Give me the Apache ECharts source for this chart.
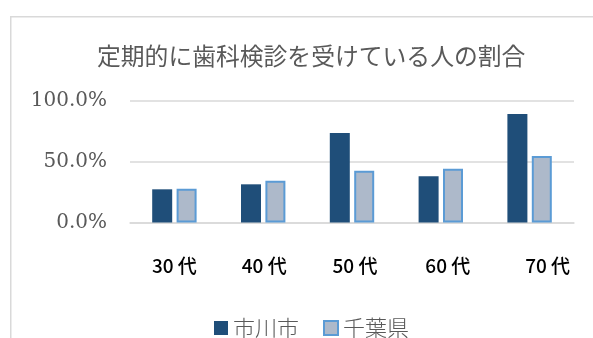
<!DOCTYPE html>
<html><head><meta charset="utf-8">
<script src="https://cdn.jsdelivr.net/npm/echarts@6/dist/echarts.min.js"></script>
<style>html,body{margin:0;padding:0;background:#fff}#c{width:593px;height:338px}</style>
</head><body><div id="c"></div>
<script>
const title = '定期的に歯科検診を受けている人の割合';
const categories = ['30 代', '40 代', '50 代', '60 代', '70 代'];
const ichikawa = [27.2, 31.3, 73.4, 37.9, 88.9];
const chiba = [27.7, 34.3, 42.5, 44.1, 54.5];
const seriesNames = ['市川市', '千葉県'];
const yTicks = [0, 50, 100];

const chart = echarts.init(document.getElementById('c'), null, {renderer: 'canvas'});
const cjk = '"Noto Sans CJK JP", "Noto Sans", sans-serif';
const labelShift = [0, 2, 6, 14, 36];
chart.setOption({
  animation: false,
  graphic: [{
    type: 'rect', left: 10, top: 16, z: -1,
    shape: {width: 600, height: 340},
    style: {fill: '#fff', stroke: '#d9d9d9', lineWidth: 1.5}
  }],
  title: {
    text: title, left: 92, top: 39,
    textStyle: {fontFamily: cjk, fontSize: 23.8, fontWeight: 'normal', color: '#595959'}
  },
  legend: {
    data: seriesNames, left: 209, top: 312, icon: 'rect',
    itemWidth: 14, itemHeight: 14, itemGap: 24,
    textStyle: {fontFamily: cjk, fontSize: 22, fontWeight: 300, color: '#595959'}
  },
  grid: {left: 130, right: 19, top: 100.5, bottom: 115.5},
  xAxis: {
    type: 'category',
    data: categories.map((c, i) => ({value: c, textStyle: {padding: [0, 0, 0, labelShift[i]]}})),
    axisLine: {lineStyle: {color: '#d9d9d9', width: 1.5}},
    axisTick: {show: false},
    axisLabel: {fontFamily: cjk, fontSize: 19, fontWeight: 500, color: '#000', margin: 34}
  },
  yAxis: {
    type: 'value', min: yTicks[0], max: yTicks[yTicks.length - 1], interval: 50,
    axisLine: {show: false}, axisTick: {show: false},
    splitLine: {lineStyle: {color: '#d9d9d9', width: 1.5}},
    axisLabel: {
      fontFamily: '"DejaVu Serif", serif', fontSize: 20, color: '#595959', margin: 23,
      formatter: v => v.toFixed(1) + '%'
    }
  },
  series: [
    {name: seriesNames[0], type: 'bar', data: ichikawa, barWidth: 20, barGap: '22%',
     itemStyle: {color: '#1F4E79'}},
    {name: seriesNames[1], type: 'bar', data: chiba, barWidth: 20,
     itemStyle: {color: '#ADB9CA', borderColor: '#5B9BD5', borderWidth: 2}}
  ]
});
</script></body></html>
